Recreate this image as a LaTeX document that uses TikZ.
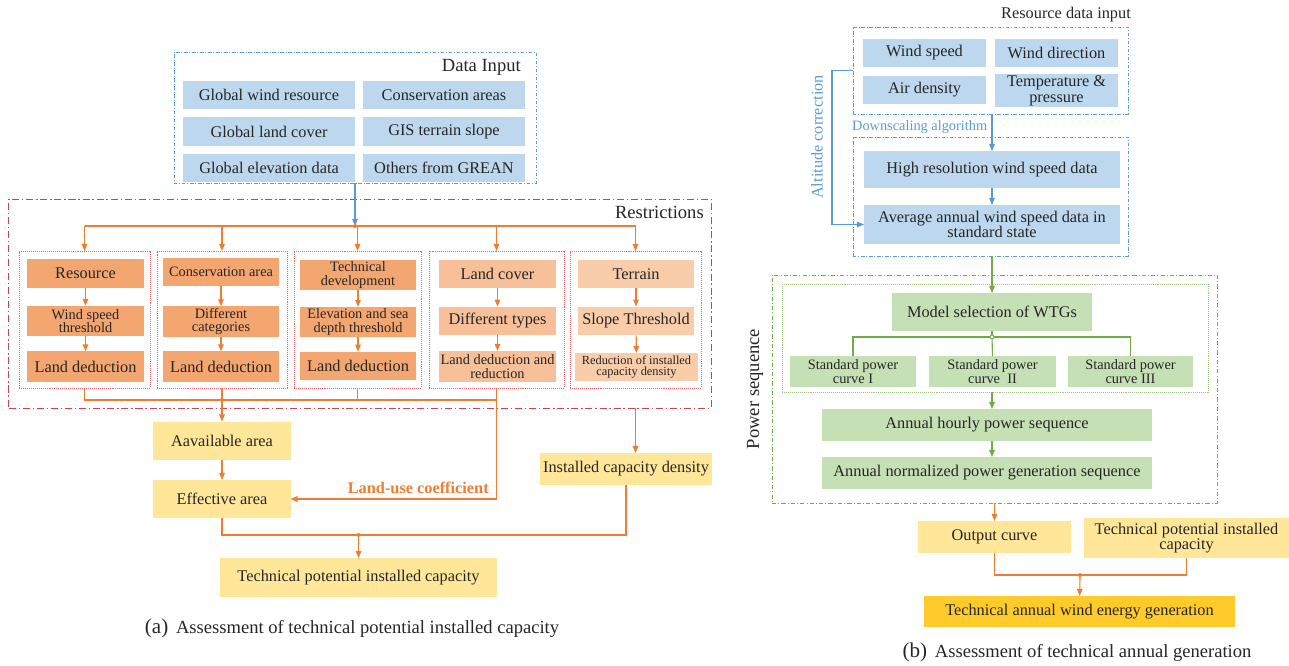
\documentclass[tikz,border=0pt]{standalone}
\usepackage{fontspec}
\setmainfont{Liberation Serif}
\usetikzlibrary{arrows.meta}

\definecolor{boxblue}{HTML}{BDD7EE}
\definecolor{boxgreen}{HTML}{C5E0B4}
\definecolor{boxyellow}{HTML}{FFE699}
\definecolor{boxgold}{HTML}{FFCB2B}
\definecolor{boxora}{HTML}{F4A670}
\definecolor{boxorb}{HTML}{F7C098}
\definecolor{boxorc}{HTML}{F9CCAA}
\definecolor{lnorange}{HTML}{ED7D31}
\definecolor{lnblue}{HTML}{5B9BD5}
\definecolor{lngreen}{HTML}{70AD47}
\definecolor{lnred}{HTML}{C8464F}
\definecolor{lnpink}{HTML}{E06670}
\definecolor{txt}{HTML}{262626}

\newcommand{\fntL}{\fontsize{11.6pt}{11.2pt}\selectfont}
\newcommand{\fntM}{\fontsize{10.2pt}{9.6pt}\selectfont}
\newcommand{\fntS}{\fontsize{8.8pt}{8.4pt}\selectfont}
\newcommand{\fntT}{\fontsize{13.2pt}{14pt}\selectfont}

\tikzset{
  box/.style={inner sep=1pt, outer sep=0pt, align=center, text=txt, font=\fntL},
  bluebox/.style={box, fill=boxblue},
  greenbox/.style={box, fill=boxgreen},
  yellowbox/.style={box, fill=boxyellow},
  orabox/.style={box, fill=boxora},
  orbbox/.style={box, fill=boxorb},
  orcbox/.style={box, fill=boxorc},
  frame/.style={inner sep=0pt, outer sep=0pt, line width=0.6pt},
  blueframe/.style={frame, draw=lnblue, dash pattern=on 2.5pt off 1.3pt on 0.6pt off 1.3pt},
  redframe/.style={frame, draw=lnred, dash pattern=on 5pt off 2pt on 1pt off 2pt},
  subframe/.style={frame, draw=lnpink, dash pattern=on 0.7pt off 0.7pt},
  greenframe/.style={frame, draw=lngreen, dash pattern=on 3pt off 1.5pt on 0.7pt off 1.5pt},
  dotframe/.style={frame, draw=lngreen!70, dash pattern=on 0.7pt off 0.7pt},
  oline/.style={draw=lnorange, line width=0.8pt},
  oarrow/.style={oline, -{Triangle[length=5pt,width=4pt]}},
  bline/.style={draw=lnblue, line width=0.8pt},
  barrow/.style={bline, -{Triangle[length=5pt,width=4pt]}},
  gline/.style={draw=lngreen, line width=0.8pt},
  garrow/.style={gline, -{Triangle[length=5pt,width=4pt]}},
  title/.style={inner sep=0pt, text=txt, font=\fntT},
}

\begin{document}
\begin{tikzpicture}[x=0.025cm, y=-0.025cm]
  \useasboundingbox (0,0) rectangle (1289,665);

  %%%%%%%%%%%%%Data input%%%%%%%%%%%%%%%%%%%%%%
  \node[blueframe, minimum width=9.05cm, minimum height=3.275cm] (dinput) at (355,117.5) {};
  \node[title, anchor=east] (dintitle) at (521,67) {Data Input};
  \node[bluebox, minimum width=4.3cm, minimum height=0.72cm] (gwind) at (269,95) {Global wind resource};
  \node[bluebox, minimum width=4.05cm, minimum height=0.72cm] (gcons) at (444,95) {Conservation areas};
  \node[bluebox, minimum width=4.3cm, minimum height=0.72cm] (gland) at (269,131.5) {Global land cover};
  \node[bluebox, minimum width=4.05cm, minimum height=0.72cm] (gslope) at (444,131.5) {GIS terrain slope};
  \node[bluebox, minimum width=4.3cm, minimum height=0.72cm] (gelev) at (269,168) {Global elevation data};
  \node[bluebox, minimum width=4.05cm, minimum height=0.72cm] (gother) at (444,168) {Others from GREAN};

  %%%%%%%%%%%%%Restrictions%%%%%%%%%%%%%%%%%%%%%%
  \node[redframe, minimum width=17.55cm, minimum height=5.225cm] (restr) at (360,303.5) {};
  \node[title, anchor=east] (restitle) at (704,212) {Restrictions};
  \node[subframe, minimum width=3.275cm, minimum height=3.425cm] (rs1) at (84.5,319.5) {};
  \node[subframe, minimum width=3.25cm, minimum height=3.425cm] (rs2) at (222,319.5) {};
  \node[subframe, minimum width=3.175cm, minimum height=3.425cm] (rs3) at (357.5,319.5) {};
  \node[subframe, minimum width=3.375cm, minimum height=3.425cm] (rs4) at (496.5,319.5) {};
  \node[subframe, minimum width=3.275cm, minimum height=3.425cm] (rs5) at (635.5,319.5) {};

  \node[orabox, minimum width=2.925cm, minimum height=0.72cm] (res) at (85.5,273.5) {Resource};
  \node[orabox, minimum width=2.925cm, minimum height=0.76cm, font=\fntM] (wst) at (85.5,321) {Wind speed\\threshold};
  \node[orabox, minimum width=2.925cm, minimum height=0.76cm] (ld1) at (85.5,366.5) {Land deduction};

  \node[orabox, minimum width=2.9cm, minimum height=0.68cm, font=\fntM] (cons) at (221,272) {Conservation area};
  \node[orabox, minimum width=2.9cm, minimum height=0.76cm, font=\fntM] (dcat) at (221,321.5) {Different\\categories};
  \node[orabox, minimum width=2.9cm, minimum height=0.76cm] (ld2) at (221,366.5) {Land deduction};

  \node[orabox, minimum width=2.9cm, minimum height=0.76cm, font=\fntM] (tdev) at (358,275) {Technical\\development};
  \node[orabox, minimum width=2.9cm, minimum height=0.76cm, font=\fntM] (elev) at (358,322) {Elevation and sea\\depth threshold};
  \node[orabox, minimum width=2.9cm, minimum height=0.72cm] (ld3) at (358,366) {Land deduction};

  \node[orbbox, minimum width=2.925cm, minimum height=0.72cm] (lcov) at (497.5,274) {Land cover};
  \node[orbbox, minimum width=2.925cm, minimum height=0.72cm] (dtyp) at (497.5,321) {Different types};
  \node[orbbox, minimum width=2.925cm, minimum height=0.78cm, font=\fntM] (ldr) at (497.5,366.5) {Land deduction and\\reduction};

  \node[orcbox, minimum width=2.9cm, minimum height=0.72cm] (terr) at (636,274) {Terrain};
  \node[orcbox, minimum width=2.9cm, minimum height=0.72cm] (slope) at (636,321) {Slope Threshold};
  \node[orcbox, minimum width=3.075cm, minimum height=0.7cm, font=\fntS] (rcap) at (636.5,367) {Reduction of installed\\capacity density};

  \draw[oarrow] (res) -- (wst);
  \draw[oarrow] (wst) -- (ld1);
  \draw[oarrow] (cons) -- (dcat);
  \draw[oarrow] (dcat) -- (ld2);
  \draw[oarrow] (tdev) -- (elev);
  \draw[oarrow] (elev) -- (ld3);
  \draw[oarrow] (lcov) -- (dtyp);
  \draw[oarrow] (dtyp) -- (ldr);
  \draw[oarrow] (terr) -- (slope);
  \draw[oarrow] (slope) -- (rcap);

  \coordinate (jtop) at (355,226);
  \draw[barrow] (dinput.south) -- (jtop);
  \draw[oline] (jtop -| rs1.north) -- (jtop -| rs5.north);
  \foreach \c in {rs1,rs2,rs3,rs4,rs5}
    \draw[oarrow] (jtop -| \c.north) -- (\c.north);
  \fill[lnorange] (jtop) circle (2);

  %%%%%%%%%%%%%Area and capacity%%%%%%%%%%%%%%%%%%%%%%
  \node[yellowbox, minimum width=3.425cm, minimum height=0.95cm] (avail) at (222,440.5) {Aavailable area};
  \node[yellowbox, minimum width=3.425cm, minimum height=0.95cm] (eff) at (222,499) {Effective area};
  \node[yellowbox, minimum width=4.3cm, minimum height=0.8cm] (icd) at (626,469) {Installed capacity density};
  \node[yellowbox, minimum width=6.925cm, minimum height=0.975cm] (tpic) at (358.5,577.5) {Technical potential installed capacity};

  \coordinate (jbot) at (222,400);
  \draw[oline] (rs1.south) |- (jbot -| rs4.south);
  \draw[oline] (rs2.south) -- (jbot);
  \draw[oline] (rs3.south) -- (rs3.south |- jbot);
  \fill[lnorange] (jbot) circle (2);
  \draw[oarrow] (jbot) -- (avail);
  \draw[oarrow] (avail) -- (eff);
  \draw[oarrow] (rs4.south) |- (eff.east);
  \node[anchor=south east, inner sep=0pt, text=lnorange, font=\fntL\bfseries] (luc) at (489,494) {Land-use coefficient};
  \draw[oarrow] (restr.south -| rs5.south) -- (rs5.south |- icd.north);

  \coordinate (jcap) at (358.5,535);
  \draw[oline] (eff.south) |- (jcap) -| (icd.south);
  \fill[lnorange] (jcap) circle (2);
  \draw[oarrow] (jcap) -- (tpic);

  \node[title, anchor=base] (capa) at (352,633) {{\fontsize{15pt}{16pt}\selectfont(a)}\, Assessment of technical potential installed capacity};

  %%%%%%%%%%%%%Resource data input%%%%%%%%%%%%%%%%%%%%%%
  \node[title, font=\fntL] (rdtitle) at (1066,15) {Resource data input};
  \node[blueframe, minimum width=6.875cm, minimum height=2.175cm] (rdin) at (990.5,70.5) {};
  \node[bluebox, minimum width=3.075cm, minimum height=0.7cm] (wspd) at (924.5,53) {Wind speed};
  \node[bluebox, minimum width=3.075cm, minimum height=0.7cm] (wdir) at (1056.5,53) {Wind direction};
  \node[bluebox, minimum width=3.075cm, minimum height=0.7cm] (aird) at (924.5,90) {Air density};
  \node[bluebox, minimum width=3.075cm, minimum height=0.775cm] (temp) at (1056.5,90.5) {Temperature \&\\pressure};

  \node[blueframe, minimum width=6.875cm, minimum height=2.975cm] (hrin) at (990.5,196.5) {};
  \node[bluebox, minimum width=6.4cm, minimum height=0.925cm] (hres) at (992,169.5) {High resolution wind speed data};
  \node[bluebox, minimum width=6.4cm, minimum height=0.975cm] (avgw) at (992,224.5) {Average annual wind speed data in\\standard state};

  \draw[barrow] (rdin.south -| hres.north) -- (hres.north)
    node[pos=0.35, left=3pt, text=lnblue, font=\fntM, inner sep=0pt] (dsa) {Downscaling algorithm};
  \draw[barrow] (hres) -- (avgw);
  \draw[barrow] (rdin.west) -- ++(-21,0) |- (avgw.west);
  \node[rotate=90, text=lnblue, font=\fntL, inner sep=0pt] (altc) at (817,137) {Altitude correction};

  %%%%%%%%%%%%%Power sequence%%%%%%%%%%%%%%%%%%%%%%
  \node[greenframe, minimum width=11.125cm, minimum height=5.7cm] (psq) at (994.5,389) {};
  \node[title, rotate=90] (pstitle) at (755,389) {Power sequence};
  \node[dotframe, minimum width=10.65cm, minimum height=2.7cm] (wtg) at (995,338) {};
  \node[greenbox, minimum width=5cm, minimum height=0.95cm] (model) at (992,312) {Model selection of WTGs};
  \node[greenbox, minimum width=3.15cm, minimum height=0.775cm, font=\fntM] (spc1) at (853,371.5) {Standard power\\curve I};
  \node[greenbox, minimum width=3.175cm, minimum height=0.775cm, font=\fntM] (spc2) at (992.5,371.5) {Standard power\\curve~~II};
  \node[greenbox, minimum width=3.125cm, minimum height=0.775cm, font=\fntM] (spc3) at (1130.5,371.5) {Standard power\\curve III};
  \node[greenbox, minimum width=8.25cm, minimum height=0.8cm] (hour) at (987,425) {Annual hourly power sequence};
  \node[greenbox, minimum width=8.25cm, minimum height=0.8cm] (norm) at (987,473) {Annual normalized power generation sequence};

  \draw[garrow] (hrin.south -| model.north) -- (model.north);
  \coordinate (jwtg) at (992,337);
  \draw[gline] (model.south) -- (jwtg);
  \draw[gline] (spc1.north) |- (jwtg) -| (spc3.north);
  \draw[gline] (jwtg) -- (spc2.north);
  \filldraw[draw=lngreen, fill=white, line width=0.6pt] (jwtg) circle (2);
  \draw[garrow] (wtg.south -| model.south) -- (model.south |- hour.north);
  \draw[garrow] (model.south |- hour.south) -- (model.south |- norm.north);

  %%%%%%%%%%%%%Generation%%%%%%%%%%%%%%%%%%%%%%
  \node[yellowbox, minimum width=3.825cm, minimum height=0.8cm] (outc) at (994.5,537) {Output curve};
  \node[yellowbox, minimum width=5.125cm, minimum height=1cm] (tpicb) at (1186.5,538) {Technical potential installed\\capacity};
  \node[box, fill=boxgold, minimum width=7.775cm, minimum height=0.775cm] (gen) at (1079.5,611.5) {Technical annual wind energy generation};

  \draw[oarrow] (psq.south -| outc.north) -- (outc.north);
  \coordinate (jgen) at (1080,575);
  \draw[oline] (outc.south) |- (jgen) -| (tpicb.south);
  \fill[lnorange] (jgen) circle (2);
  \draw[oarrow] (jgen) -- (gen);

  \node[title, anchor=base] (capb) at (1077,657) {{\fontsize{15pt}{16pt}\selectfont(b)}\, Assessment of technical annual generation};
\end{tikzpicture}
\end{document}
